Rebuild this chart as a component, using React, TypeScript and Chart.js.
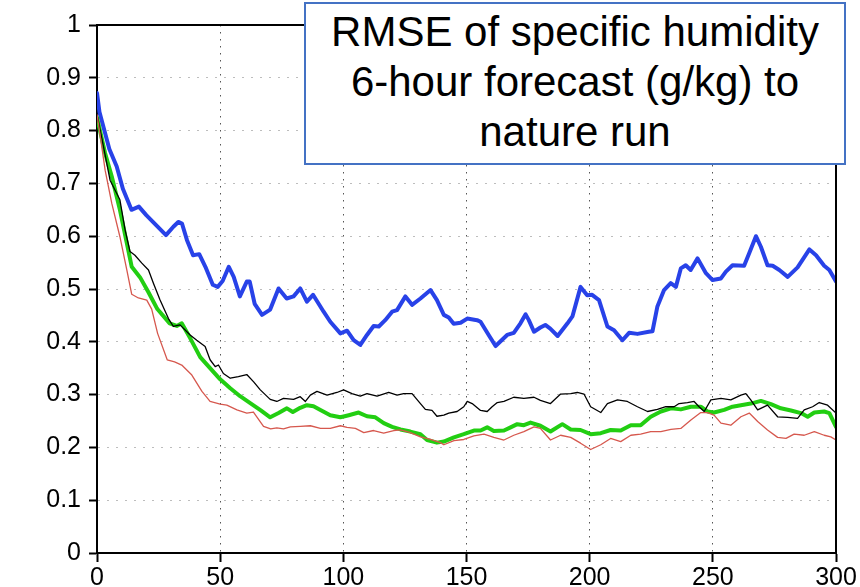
import React, { useEffect, useRef } from "react";
import { Chart, registerables } from "chart.js";

Chart.register(...registerables);

const titleLines = ["RMSE of specific humidity", "6-hour forecast (g/kg) to", "nature run"];

const xTicks = [0, 50, 100, 150, 200, 250, 300];
const yTickLabels = ["0", "0.1", "0.2", "0.3", "0.4", "0.5", "0.6", "0.7", "0.8", "0.9", "1"];

const blueX = [0,1,3,5,8,10.5,14,17,20,24,28,31,33,34.5,36.5,39,41.5,44,47,49,51,53.5,55.5,58,60.8,62,64,67,70.3,73.7,77,79.8,82.5,85.2,87.7,92,94.7,98.8,101.5,104.2,106.9,109.6,112.3,114.4,117,119.8,121.8,125.2,127.9,131.3,135.4,138,140.8,142.8,144.8,147.6,150.3,154.3,155.7,159,161.8,166.5,169.2,171.9,174,175.3,177.4,180,182,184,187,191,193,196.3,199,201,203.8,207.2,209.9,213.3,216,219.4,224,225.5,227.5,230.2,232.9,235,237,239,241,243.8,247.2,249.9,253.3,255.3,258,262.7,264.8,267.5,269.5,272.2,274.3,277,280.4,284.4,289.2,291.9,295.2,297.3,300];
const blueY = [0.871,0.835,0.80,0.765,0.732,0.690,0.650,0.656,0.640,0.621,0.602,0.618,0.627,0.624,0.593,0.564,0.566,0.542,0.508,0.504,0.515,0.542,0.523,0.486,0.514,0.514,0.472,0.451,0.461,0.501,0.482,0.486,0.501,0.476,0.489,0.457,0.438,0.416,0.421,0.403,0.394,0.413,0.430,0.429,0.441,0.457,0.460,0.486,0.470,0.482,0.498,0.479,0.451,0.446,0.434,0.436,0.444,0.441,0.438,0.413,0.392,0.413,0.417,0.435,0.452,0.441,0.419,0.427,0.432,0.425,0.411,0.435,0.448,0.504,0.488,0.489,0.479,0.429,0.422,0.403,0.417,0.415,0.419,0.420,0.467,0.498,0.511,0.504,0.539,0.545,0.536,0.558,0.530,0.517,0.520,0.533,0.545,0.544,0.568,0.600,0.580,0.545,0.544,0.536,0.523,0.541,0.575,0.564,0.544,0.536,0.514];

const blackX = [0,2,5.3,9.3,11.4,13.4,15.4,18.2,20.9,22.9,25.6,29,31,33.7,37.8,40.5,43.9,45.9,48,49.3,51.3,54.1,57.4,60.8,63.6,66.3,70.3,73,75.7,79.8,82.5,84.6,86.6,89.3,93.4,97.4,100.1,103.5,106.9,109.6,113.7,118.4,121.8,124.5,127.9,131.3,133.3,136,138,140.8,142.8,146.2,148.9,150.3,152.3,155.7,158.4,160.4,162.5,165.2,169.2,173.3,177.4,180,184.1,188.2,192.3,195,197.7,200.4,204.5,207.2,211.3,215.3,219.4,223.5,227.5,230.9,234.3,236.3,239.7,242.4,244.4,246.5,249.2,253.3,257.3,261.4,263.4,265.4,268.2,272.2,276.3,280.4,284.4,287.1,290.5,293.2,296.6,300];
const blackY = [0.830,0.785,0.706,0.669,0.612,0.571,0.564,0.549,0.536,0.511,0.479,0.444,0.429,0.432,0.413,0.403,0.391,0.366,0.353,0.356,0.340,0.331,0.334,0.338,0.324,0.309,0.291,0.287,0.293,0.291,0.296,0.287,0.299,0.306,0.299,0.304,0.309,0.302,0.297,0.302,0.297,0.304,0.299,0.302,0.302,0.283,0.272,0.270,0.259,0.261,0.265,0.268,0.277,0.287,0.283,0.270,0.268,0.277,0.285,0.287,0.295,0.293,0.295,0.289,0.283,0.301,0.302,0.304,0.301,0.277,0.266,0.283,0.290,0.287,0.277,0.268,0.272,0.277,0.277,0.283,0.285,0.287,0.277,0.268,0.290,0.293,0.290,0.299,0.302,0.290,0.271,0.280,0.258,0.257,0.255,0.271,0.277,0.285,0.280,0.265];

const greenX = [0,3.3,6,9.3,12.1,14.1,17.5,21,24.5,29.5,32.4,34.4,37.8,41.9,45.9,50,54.1,58.1,62.2,66.5,70.3,73.7,77.1,79.5,82.5,85.2,87.9,90.7,94.7,98.8,102.2,106.2,109.6,113,116.4,119.8,123.2,127.2,131.3,134,138,140.8,144.9,148.9,153,155.7,158.4,161.1,165.2,167.9,170.6,173.3,176,180,184.1,188.9,192.3,196.3,200.4,204.5,208.5,212.6,216.7,220.7,224.8,228.9,233,237,241.1,245.1,247.8,250.5,254.6,258,261.4,265.4,269.5,273.6,277.6,281.7,285.8,288.5,291.2,295.2,297.3,300];
const greenY = [0.825,0.757,0.713,0.650,0.587,0.542,0.522,0.493,0.462,0.435,0.430,0.435,0.407,0.371,0.350,0.329,0.312,0.297,0.284,0.270,0.257,0.265,0.274,0.267,0.275,0.280,0.278,0.271,0.261,0.257,0.261,0.266,0.259,0.257,0.246,0.239,0.234,0.230,0.225,0.214,0.209,0.211,0.219,0.225,0.232,0.232,0.238,0.231,0.232,0.238,0.244,0.242,0.247,0.241,0.230,0.244,0.234,0.233,0.225,0.227,0.233,0.232,0.242,0.242,0.258,0.268,0.274,0.272,0.277,0.277,0.268,0.266,0.271,0.277,0.280,0.283,0.288,0.282,0.274,0.270,0.265,0.258,0.266,0.268,0.265,0.239];

const redX = [0,1,3.3,6,9.3,12.1,14.1,16.8,20.2,22.2,24.6,28.5,31.5,34.4,38.5,42.6,45.9,50,52.7,56.8,60.8,63.5,67.6,70.5,73,75.7,78.5,82.5,86.6,90.7,94.7,98.8,101.5,104.9,108.3,112.3,116.4,120.5,123.2,127.2,131.3,135.4,139.4,140.8,144.9,148.9,153,157.1,161.1,165.2,169.2,173.3,177.4,180,184.1,188.2,192.3,196.3,200.4,204.5,208.5,212.6,216.7,220.7,224.8,228.9,233,237,241.1,245.1,247.8,250.5,253.3,257.3,261.4,264.8,268.2,272.2,276.3,279.7,283,287.1,291.2,295.2,297.9,300];
const redY = [0.83,0.80,0.725,0.662,0.599,0.536,0.490,0.483,0.479,0.462,0.416,0.366,0.362,0.356,0.337,0.306,0.287,0.282,0.280,0.271,0.265,0.267,0.240,0.235,0.237,0.235,0.239,0.240,0.241,0.236,0.236,0.241,0.238,0.236,0.228,0.232,0.227,0.232,0.233,0.228,0.220,0.215,0.209,0.205,0.213,0.215,0.222,0.225,0.219,0.214,0.223,0.230,0.239,0.236,0.214,0.223,0.219,0.208,0.196,0.205,0.217,0.211,0.223,0.225,0.230,0.230,0.234,0.236,0.252,0.266,0.266,0.261,0.246,0.242,0.258,0.265,0.249,0.233,0.219,0.217,0.225,0.223,0.230,0.223,0.220,0.214];

const toPoints = (xs: number[], ys: number[]) => {
  const n = Math.min(xs.length, ys.length);
  const out: { x: number; y: number }[] = [];
  for (let i = 0; i < n; i++) out.push({ x: xs[i], y: ys[i] });
  return out;
};

const FONT = "'Liberation Sans', Arial, Helvetica, sans-serif";

const framePlugin = {
  id: "frame",
  afterDraw(chart: any) {
    const { ctx, chartArea } = chart;
    ctx.save();
    ctx.strokeStyle = "#000";
    ctx.lineWidth = 2;
    ctx.beginPath();
    ctx.moveTo(chartArea.left, chartArea.top);
    ctx.lineTo(chartArea.right, chartArea.top);
    ctx.lineTo(chartArea.right, chartArea.bottom);
    ctx.stroke();
    ctx.restore();
  },
};

const lineStyle = { pointRadius: 0, tension: 0, fill: false, borderJoinStyle: "round", borderCapStyle: "round" };

export default function App() {
  const canvasRef = useRef<HTMLCanvasElement | null>(null);

  useEffect(() => {
    if (!canvasRef.current) return;
    const chart = new Chart(canvasRef.current, {
      type: "line",
      data: {
        datasets: [
          { label: "red", data: toPoints(redX, redY), borderColor: "rgb(214,88,78)", borderWidth: 1.3, ...lineStyle },
          { label: "black", data: toPoints(blackX, blackY), borderColor: "#000000", borderWidth: 1.3, ...lineStyle },
          { label: "green", data: toPoints(greenX, greenY), borderColor: "rgb(34,206,18)", borderWidth: 4, ...lineStyle },
          { label: "blue", data: toPoints(blueX, blueY), borderColor: "rgb(40,66,232)", borderWidth: 4, ...lineStyle },
        ],
      },
      options: {
        responsive: false,
        animation: false,
        events: [],
        layout: { padding: { top: 25, right: 24, left: 0, bottom: 0 } },
        plugins: { legend: { display: false }, title: { display: false }, tooltip: { enabled: false } },
        scales: {
          x: {
            type: "linear",
            min: 0,
            max: 300,
            afterBuildTicks: (scale: any) => {
              scale.ticks = xTicks.map((v) => ({ value: v }));
            },
            afterFit: (scale: any) => {
              scale.height = 34;
            },
            ticks: {
              color: "#000",
              font: { family: FONT, size: 25 },
              padding: 1,
              maxRotation: 0,
              autoSkip: false,
              callback: (v: any) => String(v),
            },
            grid: {
              color: "#555",
              lineWidth: 1,
              tickLength: 9,
              tickColor: "#000",
              tickWidth: 2,
              tickBorderDash: [],
            },
            border: { color: "#000", width: 2, dash: [1.5, 5.5] },
          },
          y: {
            type: "linear",
            min: 0,
            max: 1,
            afterBuildTicks: (scale: any) => {
              scale.ticks = yTickLabels.map((_, i) => ({ value: i / 10 }));
            },
            afterFit: (scale: any) => {
              scale.width = 97;
            },
            ticks: {
              color: "#000",
              font: { family: FONT, size: 25 },
              padding: 8,
              autoSkip: false,
              callback: (_v: any, i: number) => yTickLabels[i],
            },
            grid: {
              color: "#bdbdbd",
              lineWidth: 1,
              tickLength: 8,
              tickColor: "#000",
              tickWidth: 2,
              tickBorderDash: [],
            },
            border: { color: "#000", width: 2, dash: [2, 7] },
          },
        },
      },
      plugins: [framePlugin],
    } as any);
    return () => chart.destroy();
  }, []);

  return (
    <div style={{ position: "fixed", left: 0, top: 0, width: 860, height: 587, background: "#fff", overflow: "hidden" }}>
      <canvas ref={canvasRef} width={860} height={587} style={{ display: "block", width: 860, height: 587 }} />
      <div
        style={{
          position: "absolute",
          left: 304,
          top: 2,
          width: 542,
          height: 163,
          boxSizing: "border-box",
          border: "2px solid #4472c4",
          background: "#fff",
          textAlign: "center",
          fontFamily: FONT,
          fontSize: 42,
          lineHeight: "50px",
          paddingTop: 3,
          color: "#000",
          whiteSpace: "nowrap",
        }}
      >
        {titleLines.map((t, i) => (
          <div key={i}>{t}</div>
        ))}
      </div>
    </div>
  );
}
